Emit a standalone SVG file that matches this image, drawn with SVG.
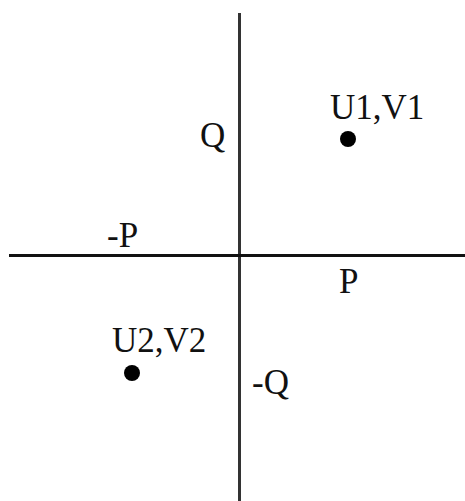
<svg xmlns="http://www.w3.org/2000/svg" width="465" height="501" viewBox="0 0 465 501">
<style>
text{font-family:"Liberation Serif","Times New Roman",serif;font-size:35px;fill:#111}
.dot{fill:#000}
</style>
<rect width="465" height="501" fill="#fff"/>
<g id="connectors">
<line x1="239.5" y1="13" x2="239.5" y2="501" stroke="#333" stroke-width="3"/>
<line x1="9" y1="255.5" x2="465" y2="255.5" stroke="#111" stroke-width="3"/>
</g>
<g id="axis-labels">
<text x="200" y="147">Q</text>
<text x="107" y="247">-P</text>
<text x="339" y="293">P</text>
<text x="252" y="394">-Q</text>
</g>
<g id="point1">
<circle class="dot" cx="348" cy="139" r="8"/>
<text x="330" y="119">U1,V1</text>
</g>
<g id="point2">
<circle class="dot" cx="132" cy="373" r="8"/>
<text x="112" y="352">U2,V2</text>
</g>
</svg>
